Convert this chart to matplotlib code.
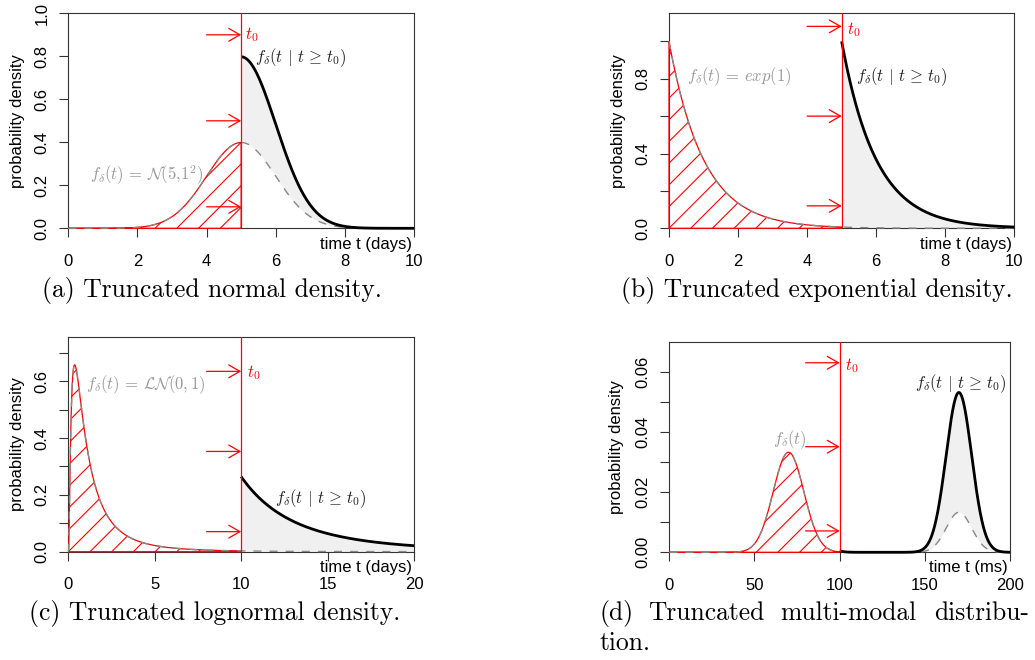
import math
import numpy as np
import matplotlib
matplotlib.use("Agg")
import matplotlib.pyplot as plt
from matplotlib.patches import Polygon, FancyArrowPatch, ArrowStyle
from matplotlib.lines import Line2D

plt.rcParams['font.family'] = ['Liberation Sans', 'DejaVu Sans']
plt.rcParams['mathtext.fontset'] = 'cm'

W, H, DPI = 1035, 660, 100
fig = plt.figure(figsize=(W / DPI, H / DPI), dpi=DPI)

# ---------------------------------------------------------------------------
# distribution parameters and truncation points
norm_mean, norm_sd, norm_t0 = 5.0, 1.0, 5.0
exp_rate, exp_t0 = 1.0, 5.0
lnorm_mu, lnorm_sigma, lnorm_t0 = 0.0, 1.0, 10.0
mix_weights = [0.75, 0.25]
mix_means = [70.0, 170.0]
mix_sds = [9.0, 7.5]
mix_t0 = 100.0

# axis ranges and ticks
xlims = [(0, 10), (0, 10), (0, 20), (0, 200)]
ylims = [(0, 1.0), (0, 1.15), (0, 0.757), (0, 0.07)]
xticks = [[0, 2, 4, 6, 8, 10], [0, 2, 4, 6, 8, 10], [0, 5, 10, 15, 20],
          [0, 50, 100, 150, 200]]
yticks = [[0.0, 0.2, 0.4, 0.6, 0.8, 1.0],
          [0.0, 0.2, 0.4, 0.6, 0.8, 1.0],
          [0.0, 0.1, 0.2, 0.3, 0.4, 0.5, 0.6, 0.7],
          [0.0, 0.01, 0.02, 0.03, 0.04, 0.05, 0.06]]
ytick_labels = [["0.0", "0.2", "0.4", "0.6", "0.8", "1.0"],
                ["0.0", "", "0.4", "", "0.8", ""],
                ["0.0", "", "0.2", "", "0.4", "", "0.6", ""],
                ["0.00", "", "0.02", "", "0.04", "", "0.06"]]
xlabels = ["time t (days)", "time t (days)", "time t (days)", "time t (ms)"]

# arrows pointing at the truncation point: start x and heights
arrow_starts = [4.0, 4.0, 8.0, 80.0]
arrow_heights = [[0.9, 0.5, 0.1], [1.08, 0.6, 0.12], [0.635, 0.353, 0.0706],
                 [0.063, 0.0351, 0.0071]]
t0_label_pos = [(5.11, 0.899), (5.15, 1.064), (10.32, 0.63), (103.1, 0.0622)]

dens_labels = [r"$f_\delta(t) \,=\, \mathcal{N}(\mathsf{5{,}1}^{\mathsf{2}})$",
               r"$f_\delta(t) \,=\, exp(1)$",
               r"$f_\delta(t) \,=\, \mathcal{LN}(0,1)$",
               r"$f_\delta(t)$"]
dens_label_pos = [(0.63, 0.248), (0.51, 0.81), (1.02, 0.588), (60.7, 0.0373)]
trunc_label = r"$f_\delta(t \,\mid\, t \,\geq\, t_0)$"
trunc_label_pos = [(5.40, 0.795), (5.43, 0.81), (11.95, 0.188), (144.2, 0.0559)]

captions = ["(a) Truncated normal density.",
            "(b) Truncated exponential density.",
            "(c) Truncated lognormal density."]
caption_d_words = ["(d)", "Truncated", "multi-modal", "distribu-"]
caption_d_tail = "tion."

# plot boxes in pixels: left, top, right, bottom
boxes = [(68.3, 13.3, 414.0, 228.3), (669.0, 13.3, 1014.3, 228.3),
         (68.3, 336.7, 414.0, 551.7), (669.3, 341.7, 1010.0, 552.3)]
ylabel_x = [17.0, 618.0, 17.0, 616.7]
xlabel_dy = [16, 16, 16, 15]

# ---------------------------------------------------------------------------


def norm_pdf(t, m, s):
    return np.exp(-0.5 * ((t - m) / s) ** 2) / (s * math.sqrt(2 * math.pi))


def norm_sf(t, m, s):
    return 0.5 * (1 - math.erf((t - m) / (s * math.sqrt(2))))


def exp_pdf(t, r):
    return r * np.exp(-r * t)


def lnorm_pdf(t, mu, sg):
    out = np.zeros_like(t)
    pos = t > 0
    tt = t[pos]
    out[pos] = np.exp(-0.5 * ((np.log(tt) - mu) / sg) ** 2) / (tt * sg * math.sqrt(2 * math.pi))
    return out


def mix_pdf(t):
    return sum(w * norm_pdf(t, m, s) for w, m, s in zip(mix_weights, mix_means, mix_sds))


t_a = np.linspace(0, 10, 1001)
t_b = np.linspace(0, 10, 1001)
t_c = np.concatenate([np.linspace(0, 2, 801)[:-1], np.linspace(2, 20, 1801)])
t_d = np.linspace(0, 200, 2001)

dens = [norm_pdf(t_a, norm_mean, norm_sd),
        exp_pdf(t_b, exp_rate),
        lnorm_pdf(t_c, lnorm_mu, lnorm_sigma),
        mix_pdf(t_d)]
surv = [norm_sf(norm_t0, norm_mean, norm_sd),
        math.exp(-exp_rate * exp_t0),
        norm_sf(math.log(lnorm_t0), lnorm_mu, lnorm_sigma),
        sum(w * norm_sf(mix_t0, m, s) for w, m, s in zip(mix_weights, mix_means, mix_sds))]
grids = [t_a, t_b, t_c, t_d]
t0s = [norm_t0, exp_t0, lnorm_t0, mix_t0]

RED = '#FF0000'
AX_COL = '#333333'


def hatch(ax, patch, spacing=21.7, color=RED, lw=0.8):
    (x0d, y0d) = ax.transData.transform((ax.get_xlim()[0], ax.get_ylim()[0]))
    (x1d, y1d) = ax.transData.transform((ax.get_xlim()[1], ax.get_ylim()[1]))
    h = y1d - y0d
    inv = ax.transData.inverted()
    k = -int(h / spacing) - 2
    while x0d + k * spacing < x1d:
        xs = x0d + k * spacing
        p0 = inv.transform((xs, y0d))
        p1 = inv.transform((xs + h, y0d + h))
        ln = Line2D([p0[0], p1[0]], [p0[1], p1[1]], color=color, lw=lw, zorder=2)
        ax.add_line(ln)
        ln.set_clip_path(patch)
        k += 1


for i in range(4):
    L, T, R, B = boxes[i]
    ax = fig.add_axes([L / W, 1 - B / H, (R - L) / W, (B - T) / H])
    ax.set_xlim(*xlims[i])
    ax.set_ylim(*ylims[i])

    t = grids[i]
    f = dens[i]
    t0 = t0s[i]
    g = f / surv[i]
    left = t <= t0
    right = t >= t0

    # shaded gain between original and truncated density
    ax.fill_between(t[right], f[right], g[right], color='#F0F0F0', lw=0, zorder=1)

    # hatched area before the truncation point
    f0 = np.interp(t0, t, f)
    px = np.concatenate([t[left], [t0, t0, t[0]]])
    py = np.concatenate([f[left], [f0, 0.0, 0.0]])
    clip = Polygon(np.column_stack([px, py]), closed=True, facecolor='none',
                   edgecolor='none', zorder=0)
    ax.add_patch(clip)
    hatch(ax, clip)
    ax.add_patch(Polygon(np.column_stack([px, py]), closed=True, facecolor='none',
                         edgecolor=RED, lw=0.9, zorder=3, clip_on=False))

    # original density (dashed) and truncated density (solid)
    ax.plot(t, f, color='#888888', lw=1.0, ls=(0, (5.8, 5.8)), zorder=4, clip_on=False)
    ax.plot(t[right], g[right], color='black', lw=2.0, zorder=5, clip_on=False,
            solid_capstyle='butt')

    ax.axvline(t0, color=RED, lw=0.9, zorder=6)
    for yv in arrow_heights[i]:
        ax.add_patch(FancyArrowPatch((arrow_starts[i], yv), (t0, yv),
                                     arrowstyle=ArrowStyle('->', head_length=8, head_width=4.6),
                                     mutation_scale=1, color=RED, lw=0.9,
                                     shrinkA=0, shrinkB=0, zorder=6))
    ax.text(*t0_label_pos[i], r"$t_0$", color=RED, fontsize=12, ha='left', va='center')
    ax.text(*dens_label_pos[i], dens_labels[i], color='#999999', fontsize=12,
            ha='left', va='center')
    ax.text(*trunc_label_pos[i], trunc_label, color='#222222', fontsize=12,
            ha='left', va='center')

    # axes in base-graphics style
    for sp in ax.spines.values():
        sp.set_color(AX_COL)
        sp.set_linewidth(0.8)
    ax.set_xticks(xticks[i])
    ax.set_xticklabels([str(v) for v in xticks[i]], fontsize=12)
    ax.set_yticks(yticks[i])
    ax.set_yticklabels(ytick_labels[i], fontsize=12, rotation=90, va='center')
    ax.tick_params(direction='out', length=6.5, width=0.8, color=AX_COL)
    ax.tick_params(axis='x', pad=12)
    ax.tick_params(axis='y', pad=7)
    ax.set_ylabel("probability density", fontsize=12, va='center')
    ax.yaxis.set_label_coords((ylabel_x[i] - L) / (R - L), 0.5)
    ax.text(1.0 - 2 / (R - L), -xlabel_dy[i] / (B - T), xlabels[i],
            transform=ax.transAxes, ha='right', va='center', fontsize=12)

# captions
cap_kw = dict(family='cmr10', fontsize=18.4, va='baseline')
fig.text(212 / W, 1 - 296.5 / H, captions[0], ha='center', **cap_kw)
fig.text(816.6 / W, 1 - 296.5 / H, captions[1], ha='center', **cap_kw)
fig.text(215 / W, 1 - 620 / H, captions[2], ha='center', **cap_kw)
for word, xl in zip(caption_d_words, [600, 648, 780, 934]):
    fig.text(xl / W, 1 - 620 / H, word, ha='left', **cap_kw)
fig.text(600 / W, 1 - 650 / H, caption_d_tail, ha='left', **cap_kw)

fig.savefig("out.png", dpi=DPI)
